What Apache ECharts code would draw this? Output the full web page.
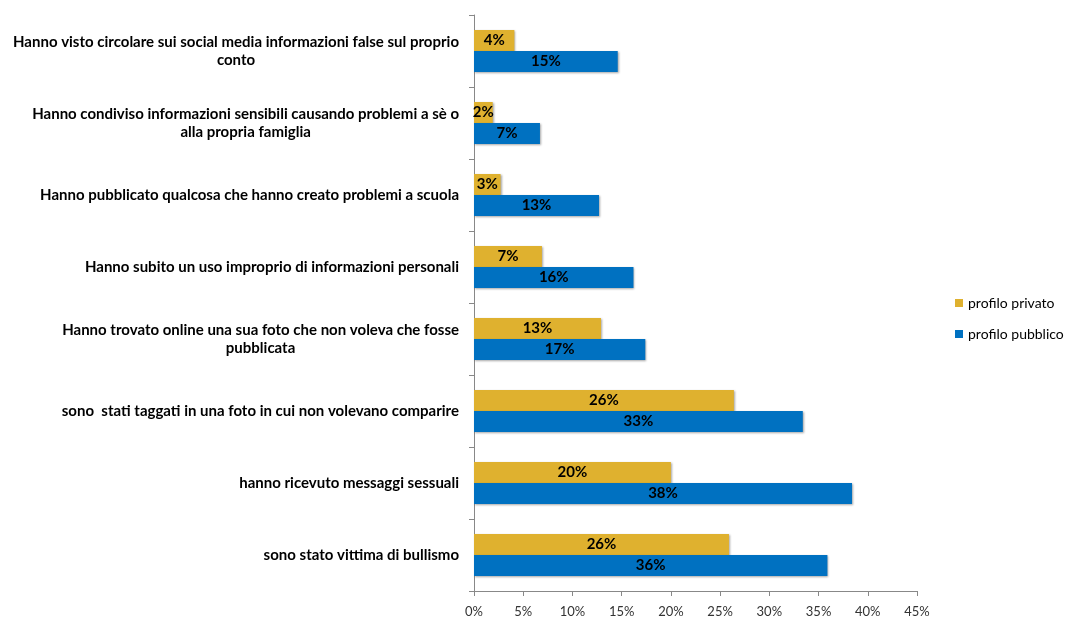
<!DOCTYPE html>
<html>
<head>
<meta charset="utf-8">
<script src="https://cdn.jsdelivr.net/npm/echarts@6/dist/echarts.min.js"></script>
<style>
  html, body { margin: 0; padding: 0; background: #fff; }
  #chart { width: 1071px; height: 619px; }
</style>
</head>
<body>
<div id="chart"></div>
<script>
// Categories, top to bottom
const categories = [
  'Hanno visto circolare sui social media informazioni false sul proprio\nconto',
  'Hanno condiviso informazioni sensibili causando problemi a sè o\nalla propria famiglia',
  'Hanno pubblicato qualcosa che hanno creato problemi a scuola',
  'Hanno subito un uso improprio di informazioni personali',
  'Hanno trovato online una sua foto che non voleva che fosse\npubblicata',
  'sono  stati taggati in una foto in cui non volevano comparire',
  'hanno ricevuto messaggi sessuali',
  'sono stato vittima di bullismo'
];

// Percentages per profile type
const profiloPrivato  = [4.1, 1.9, 2.7, 6.9, 12.9, 26.4, 20.0, 25.9];
const profiloPubblico = [14.6, 6.7, 12.7, 16.2, 17.4, 33.4, 38.4, 35.9];

const seriesNames = ['profilo privato', 'profilo pubblico'];
const xTicks = { min: 0, max: 45, interval: 5 };

const FONT = 'Lato, "Open Sans", sans-serif';

const labelStyle = {
  show: true,
  position: 'inside',
  color: '#000',
  fontFamily: FONT,
  fontWeight: 'bold',
  fontSize: 15,
  formatter: p => Math.round(p.value) + '%'
};

const barShadow = {
  shadowColor: 'rgba(0,0,0,0.35)',
  shadowBlur: 2,
  shadowOffsetX: 1,
  shadowOffsetY: 1
};

const chart = echarts.init(document.getElementById('chart'), null, { renderer: 'canvas' });

chart.setOption({
  animation: false,
  backgroundColor: '#fff',
  grid: {
    left: 474, right: 154, top: 15, bottom: 28,
    containLabel: false,
    outerBoundsMode: 'none'
  },
  legend: {
    orient: 'vertical',
    left: 950,
    top: 291,
    itemWidth: 8,
    itemHeight: 8,
    itemGap: 17,
    icon: 'rect',
    data: seriesNames,
    textStyle: { fontFamily: FONT, fontSize: 14, color: '#000' }
  },
  xAxis: {
    type: 'value',
    min: xTicks.min,
    max: xTicks.max,
    interval: xTicks.interval,
    splitLine: { show: false },
    axisLine: { show: true, lineStyle: { color: '#888' } },
    axisTick: { show: true, length: 5, lineStyle: { color: '#888' } },
    axisLabel: {
      formatter: '{value}%',
      margin: 14,
      color: '#333',
      fontFamily: FONT,
      fontSize: 13
    }
  },
  yAxis: {
    type: 'category',
    inverse: true,
    data: categories,
    axisLine: { show: true, lineStyle: { color: '#888' } },
    axisTick: { show: true, length: 5, lineStyle: { color: '#888' } },
    axisLabel: {
      margin: 15,
      formatter: v => '{c|' + v + '}',
      rich: {
        c: {
          align: 'center',
          fontFamily: FONT,
          fontWeight: 'bold',
          fontSize: 15,
          lineHeight: 18,
          color: '#000'
        }
      }
    }
  },
  series: [
    {
      name: seriesNames[0],
      type: 'bar',
      data: profiloPrivato,
      barWidth: 21,
      barGap: '0%',
      itemStyle: Object.assign({ color: '#DFB12F' }, barShadow),
      label: labelStyle
    },
    {
      name: seriesNames[1],
      type: 'bar',
      data: profiloPubblico,
      barWidth: 21,
      barGap: '0%',
      itemStyle: Object.assign({ color: '#0071C1' }, barShadow),
      label: labelStyle
    }
  ]
});
</script>
</body>
</html>
